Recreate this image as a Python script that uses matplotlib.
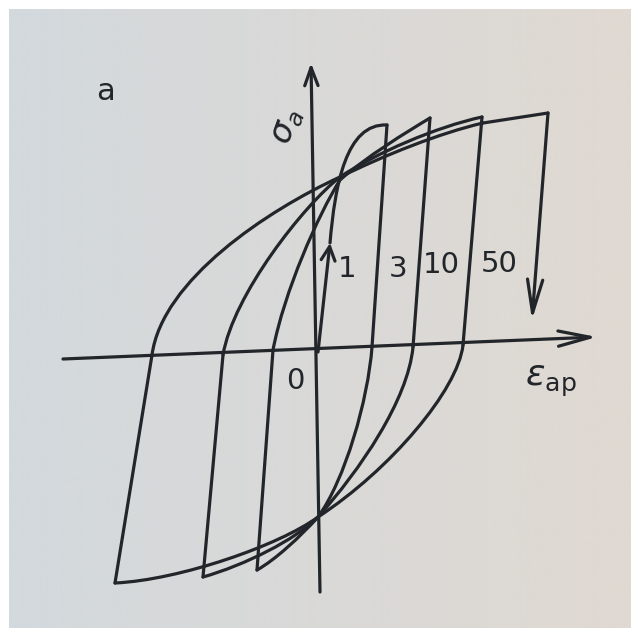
import numpy as np
import matplotlib.pyplot as plt
from matplotlib.path import Path
from matplotlib.patches import PathPatch, FancyArrowPatch

# strain / stress of the cyclic loading history (arbitrary units, origin at the axes crossing)
# two-point lists are straight branches, longer ones are chains of cubic Bezier nodes
start_1 = [(2, 3), (14, 112)]
load_1 = [(14, 112), (19, 170), (30, 232), (71, 230)]
unload_1 = [(71, 230), (56, 8)]
reverse_1 = [(56, 8), (52, -45), (29, -125), (2, -162), (-16, -182), (-41, -205), (-59, -215)]
reload_3 = [(-59, -215), (-43, 5)]
load_3 = [(-43, 5), (-32, 63), (2, 140), (24, 175), (50, 198), (89, 222), (114, 237)]
unload_3 = [(114, 237), (97, 8)]
reverse_3 = [(97, 8), (92, -45), (44, -115), (2, -162), (-21, -185), (-71, -210), (-113, -222)]
reload_10 = [(-113, -222), (-93, 0)]
load_10 = [(-93, 0), (-83, 60), (-12, 150), (24, 178), (60, 202), (120, 228), (166, 238)]
unload_10 = [(166, 238), (147, 10)]
reverse_10 = [(147, 10), (142, -35), (74, -115), (2, -162), (-36, -190), (-136, -225), (-201, -228)]
reload_50 = [(-201, -228), (-164, 0)]
load_50 = [(-164, 0), (-154, 75), (-48, 145), (24, 178), (69, 200), (124, 222), (167, 232)]
top_50 = [(167, 232), (232, 242)]
unload_50 = [(232, 242), (216, 35)]

# axes
eps_axis = [(-253, -4), (281, 18)]
sig_axis = [(4, -237), (-5, 292)]

# cycle numbers and where they are written
cycle_labels = ['1', '3', '10', '50']
cycle_label_eps = [31, 82, 125, 183]
cycle_label_sig = [86, 86, 90, 91]

ink = '#22262a'
lw = 2.3

fig = plt.figure(figsize=(6.38, 6.35), dpi=100, facecolor='white')
ax = fig.add_axes([0, 0, 1, 1])
ax.set_xlim(-316, 322)
ax.set_ylim(-280, 355)
ax.axis('off')

# paper tone, bluish on the left, warmer on the right
left = np.array([211, 217, 221]) / 255
right = np.array([224, 217, 210]) / 255
t = np.linspace(0, 1, 256)[None, :, None]
paper = left * (1 - t) + right * t
ax.imshow(paper, extent=(9 / 638, 631 / 638, 1 - 628 / 635, 1 - 9 / 635),
          transform=ax.transAxes, aspect='auto', zorder=0, interpolation='bilinear')


def branch(pts):
    if len(pts) == 2:
        codes = [Path.MOVETO, Path.LINETO]
    else:
        codes = [Path.MOVETO] + [Path.CURVE4] * (len(pts) - 1)
    ax.add_patch(PathPatch(Path(pts, codes), facecolor='none', edgecolor=ink, lw=lw,
                           capstyle='round', joinstyle='round', zorder=3))


def arrow(pts, hl, hw):
    ax.add_patch(FancyArrowPatch(pts[0], pts[1], arrowstyle=f'->,head_length={hl},head_width={hw}',
                                 mutation_scale=10, color=ink, lw=lw, shrinkA=0, shrinkB=0,
                                 capstyle='round', joinstyle='round', zorder=3))


for b in [load_1, unload_1, reverse_1, reload_3, load_3, unload_3, reverse_3,
          reload_10, load_10, unload_10, reverse_10, reload_50, load_50, top_50]:
    branch(b)

arrow(start_1, 1.0, 0.5)
arrow(unload_50, 2.4, 0.55)
arrow(eps_axis, 2.3, 0.55)
arrow(sig_axis, 1.3, 0.48)

for lab, e, s in zip(cycle_labels, cycle_label_eps, cycle_label_sig):
    ax.text(e, s, lab, fontsize=21, color=ink, ha='center', va='center', zorder=4)
ax.text(-21, -26, '0', fontsize=21, color=ink, ha='center', va='center', zorder=4)

ax.text(-210, 263, 'a', fontsize=22, color=ink, ha='center', va='center', zorder=4)
ax.text(-29, 229, r'$\sigma_a$', fontsize=24, rotation=70, color=ink,
        ha='center', va='center', zorder=4)
ax.text(235, -26, r'$\varepsilon_{\mathrm{ap}}$', fontsize=26, color=ink,
        ha='center', va='center', zorder=4)

fig.savefig('out.png', dpi=100, facecolor='white')
